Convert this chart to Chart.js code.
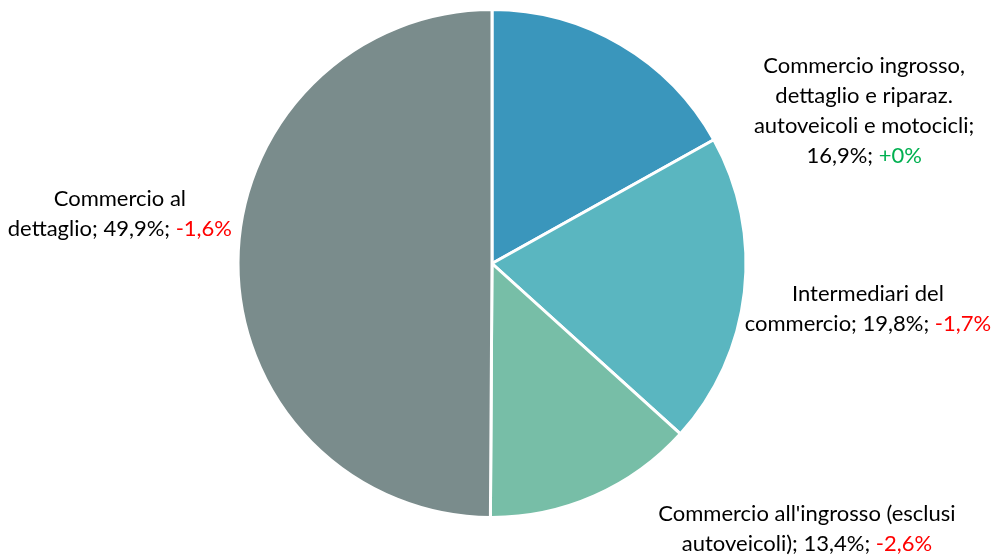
<!DOCTYPE html>
<html><head><meta charset="utf-8">
<script src="https://cdn.jsdelivr.net/npm/chart.js@4.4.0/dist/chart.umd.min.js"></script>
<style>html,body{margin:0;padding:0;background:#fff}#w{width:996px;height:556px}</style>
</head><body><div id="w"><canvas id="c"></canvas></div>
<script>
const categories = [
  "Commercio ingrosso,\ndettaglio e riparaz.\nautoveicoli e motocicli;\n",
  "Intermediari del\ncommercio; ",
  "Commercio all'ingrosso (esclusi\nautoveicoli); ",
  "Commercio al\ndettaglio; "
];
const shares = [16.9, 19.8, 13.4, 49.9];
const changes = [0, -1.7, -2.6, -1.6];
const colors = ["#3A96BC", "#5AB6C0", "#77BEA7", "#7A8C8C"];

const fmt = v => v.toFixed(1).replace('.', ',');
const fmtChg = v => (v >= 0 ? '+' : '') + (v === 0 ? '0' : fmt(v)) + '%';

// label anchor offsets from pie centre (in units of radius)
const labelAnchors = [[1.465, -0.60], [1.48, 0.18], [1.24, 1.045], [-1.465, -0.196]];

const labelPlugin = {
  id: 'pieLabels',
  afterDatasetsDraw(chart) {
    const ctx = chart.ctx;
    const meta = chart.getDatasetMeta(0);
    const lh = 30;
    ctx.save();
    ctx.font = '22px Lato, "Open Sans", sans-serif';
    ctx.textBaseline = 'middle';
    meta.data.forEach((arc, i) => {
      const cx = arc.x, cy = arc.y, r = arc.outerRadius;
      const ax = cx + labelAnchors[i][0] * r;
      const ay = cy + labelAnchors[i][1] * r;
      const txt = categories[i] + fmt(shares[i]) + '%; ';
      const parts = txt.split('\n');
      const lines = parts.map(p => [{t: p, c: '#000'}]);
      lines[lines.length - 1].push({t: fmtChg(changes[i]), c: changes[i] >= 0 ? '#00B050' : '#FF0000'});
      const n = lines.length;
      lines.forEach((segs, k) => {
        const w = segs.reduce((s, g) => s + ctx.measureText(g.t).width, 0);
        let x = ax - w / 2;
        const y = ay + (k - (n - 1) / 2) * lh;
        segs.forEach(g => {
          ctx.fillStyle = g.c;
          ctx.textAlign = 'left';
          ctx.fillText(g.t, x, y);
          x += ctx.measureText(g.t).width;
        });
      });
    });
    ctx.restore();
  }
};

new Chart(document.getElementById('c'), {
  type: 'pie',
  data: {
    labels: categories.map(c => c.replace(/\n/g, ' ')),
    datasets: [{
      data: shares,
      backgroundColor: colors,
      borderColor: '#ffffff',
      borderWidth: 3
    }]
  },
  options: {
    responsive: true,
    maintainAspectRatio: false,
    animation: false,
    layout: { padding: { left: 0, right: 12, top: 8, bottom: 37 } },
    plugins: { legend: { display: false }, tooltip: { enabled: false } }
  },
  plugins: [labelPlugin]
});
</script></body></html>
